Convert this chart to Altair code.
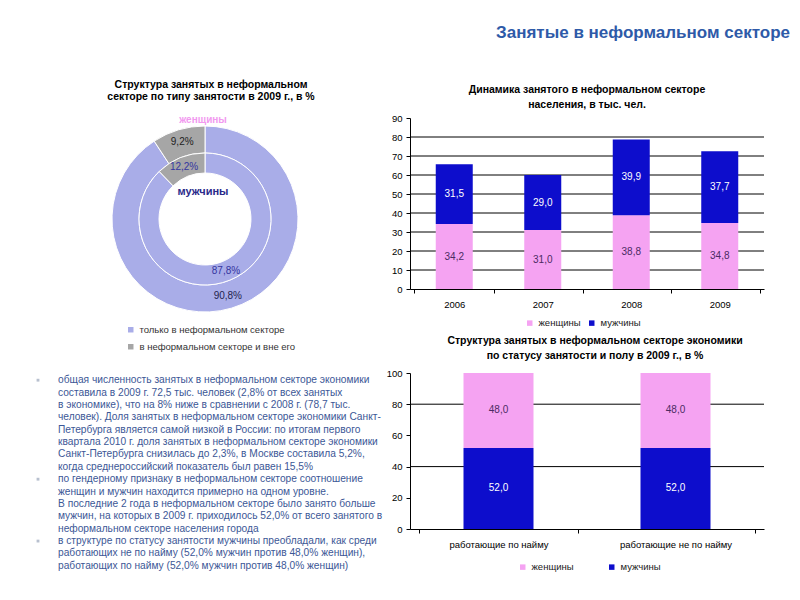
import altair as alt
import pandas as pd

FONT = "Liberation Sans"

# ---------------- data ----------------
main_title = "Занятые в неформальном секторе"

donut_title = ["Структура занятых в неформальном", "секторе по типу занятости в 2009 г., в %"]
donut_types = ["только в неформальном секторе", "в неформальном секторе и вне его"]
women_share = [90.8, 9.2]
men_share = [87.8, 12.2]
ring_women_label = "женщины"
ring_men_label = "мужчины"

genders = ["женщины", "мужчины"]

bar1_title = ["Динамика занятого в неформальном секторе", "населения, в тыс. чел."]
years = ["2006", "2007", "2008", "2009"]
women_k = [34.2, 31.0, 38.8, 34.8]
men_k = [31.5, 29.0, 39.9, 37.7]
bar1_ticks = [0, 10, 20, 30, 40, 50, 60, 70, 80, 90]
bar1_grid = [10, 20, 30, 40, 50, 60, 70, 80]

bar2_title = ["Структура занятых в неформальном секторе экономики",
              "по статусу занятости и полу в 2009 г., в %"]
statuses = ["работающие по найму", "работающие не по найму"]
women_pct = [48.0, 48.0]
men_pct = [52.0, 52.0]
bar2_ticks = [0, 20, 40, 60, 80, 100]
bar2_grid = [40, 80]

text_lines = [
    "общая численность занятых в неформальном секторе экономики",
    "составила в 2009 г. 72,5 тыс. человек (2,8% от всех занятых",
    "в экономике), что на 8% ниже  в сравнении с 2008 г. (78,7 тыс.",
    "человек). Доля занятых в неформальном секторе экономики Санкт-",
    "Петербурга является самой низкой в России: по итогам первого",
    "квартала 2010 г. доля занятых в неформальном секторе экономики",
    "Санкт-Петербурга снизилась до 2,3%, в Москве составила 5,2%,",
    "когда среднероссийский показатель был  равен 15,5%",
    "по гендерному признаку в неформальном секторе соотношение",
    "женщин и мужчин находится примерно на одном уровне.",
    "В последние 2 года в неформальном секторе было занято больше",
    "мужчин, на которых в 2009 г. приходилось 52,0% от всего занятого в",
    "неформальном секторе населения города",
    "в структуре по статусу занятости мужчины преобладали, как среди",
    "работающих не по найму (52,0% мужчин против 48,0% женщин),",
    "работающих по найму (52,0% мужчин против 48,0% женщин)",
]
bullet_lines = [0, 8, 13]

# ---------------- styles ----------------
LAV = "#A9ADE8"
GRAY = "#A6A6A6"
PINK = "#F5A3F2"
BLUE = "#0D0DCC"
TITLE_BLUE = "#2E5AA8"
BODY_TEXT = "#3C5796"


def fmt(v):
    return f"{v:.1f}".replace(".", ",")


# ---------------- header ----------------
header = alt.Chart(pd.DataFrame({"t": [main_title]})).mark_text(
    align="right", baseline="middle", font=FONT, fontSize=17, fontWeight="bold", color=TITLE_BLUE
).encode(text="t:N", x=alt.value(782), y=alt.value(25)).properties(width=782, height=67)

# ---------------- donut ----------------
CX, CY = 197, 101


def ring_df(values, colors):
    return pd.DataFrame({
        "type": donut_types,
        "value": values,
        "ord": [0, 1],
        "label": [fmt(v) + "%" for v in values],
        "lc": colors,
    })


outer_df = ring_df(women_share, ["#23234F", "#222222"])
inner_df = ring_df(men_share, ["#3535A0", "#3535A0"])

color_donut = alt.Color(
    "type:N",
    scale=alt.Scale(domain=donut_types, range=[LAV, GRAY]),
    legend=alt.Legend(
        orient="none", legendX=118, legendY=207, direction="vertical", title=None,
        symbolType="square", symbolSize=30, symbolStrokeWidth=0,
        labelFont=FONT, labelFontSize=9.5, labelColor="#333333", rowPadding=6,
    ),
)


def ring(df, r_out, r_in, label_r):
    base = alt.Chart(df).encode(
        theta=alt.Theta("value:Q", stack=True, scale=alt.Scale(domain=[0, 100])),
        order=alt.Order("ord:Q"),
    )
    arc = base.mark_arc(radius=r_out, radius2=r_in, stroke="white", strokeWidth=1).encode(
        color=color_donut, x=alt.value(CX), y=alt.value(CY)
    )
    txt = base.mark_text(radius=label_r, font=FONT, fontSize=10).encode(
        text="label:N", fill=alt.Fill("lc:N", scale=None), x=alt.value(CX), y=alt.value(CY)
    )
    return arc, txt


o_arc, o_txt = ring(outer_df, 93, 66, 80)
i_arc, i_txt = ring(inner_df, 66, 46, 56)

women_lbl = alt.Chart(pd.DataFrame({"t": [ring_women_label]})).mark_text(
    font=FONT, fontSize=10, fontWeight="bold", color="#F29AF0", baseline="middle"
).encode(text="t:N", x=alt.value(195), y=alt.value(2))
men_lbl = alt.Chart(pd.DataFrame({"t": [ring_men_label]})).mark_text(
    font=FONT, fontSize=11, fontWeight="bold", color="#2A2A8A", baseline="middle"
).encode(text="t:N", x=alt.value(195), y=alt.value(74))

donut = alt.layer(o_arc, i_arc, o_txt, i_txt, women_lbl, men_lbl).properties(
    width=370, height=256,
    title=alt.Title(donut_title, font=FONT, fontSize=10.5, fontWeight="bold", color="black",
                    anchor="middle", lineHeight=12, offset=13, dx=18),
)

# ---------------- text block ----------------
lines_df = pd.DataFrame({"i": list(range(len(text_lines))), "line": text_lines})
lines_df["bullet"] = lines_df["i"].isin(bullet_lines)

txt_chart = alt.Chart(lines_df).mark_text(
    align="left", baseline="middle", font=FONT, fontSize=10.2, color=BODY_TEXT
).encode(y=alt.Y("i:O", axis=None), x=alt.value(50), text="line:N")
bul_chart = alt.Chart(lines_df[lines_df["bullet"]]).mark_square(size=8, color="#9AA5BB").encode(
    y=alt.Y("i:O", axis=None), x=alt.value(30)
)
text_block = alt.layer(bul_chart, txt_chart).properties(width=370, height=198)

left = alt.vconcat(donut, text_block, spacing=0)


# ---------------- stacked bars ----------------
def stacked_df(cats, women, men, women_bottom):
    rows = []
    for c, w, m in zip(cats, women, men):
        order = [("женщины", w), ("мужчины", m)] if women_bottom else [("мужчины", m), ("женщины", w)]
        start = 0.0
        for k, (g, v) in enumerate(order):
            rows.append({"cat": c, "gender": g, "value": v, "ord": k,
                         "mid": start + v / 2, "label": fmt(v),
                         "lc": "#4B2B63" if g == "женщины" else "white"})
            start += v
    return pd.DataFrame(rows)


def bar_chart(df, cats, domain, ticks, grid, bar_size, title, title_dx, title_offset,
              legX, legY, colpad, w, h):
    yscale = alt.Scale(domain=domain, nice=False)
    xaxis = alt.Axis(
        title=None, labelAngle=0, labelFont=FONT, labelFontSize=9.5, labelColor="black",
        domainColor="black", tickColor="black", tickSize=4, tickBand="extent",
        labelPadding=6, grid=False)
    yaxis = alt.Axis(
        title=None, values=ticks, labelFont=FONT, labelFontSize=9.5, labelColor="black",
        domainColor="black", tickColor="black", tickSize=4, grid=False, labelPadding=4)
    gridl = alt.Chart(pd.DataFrame({"g": grid})).mark_rule(color="black", strokeWidth=1).encode(
        y=alt.Y("g:Q", scale=yscale, axis=yaxis))
    bars = alt.Chart(df).mark_bar(size=bar_size).encode(
        x=alt.X("cat:N", sort=cats, axis=xaxis),
        y=alt.Y("value:Q", stack="zero", scale=yscale, axis=yaxis),
        color=alt.Color("gender:N", scale=alt.Scale(domain=genders, range=[PINK, BLUE]),
                        legend=alt.Legend(orient="none", legendX=legX, legendY=legY,
                                          direction="horizontal", title=None, symbolType="square",
                                          symbolSize=30, symbolStrokeWidth=0, labelFont=FONT,
                                          labelFontSize=9.5, labelColor="#222222",
                                          columnPadding=colpad)),
        order=alt.Order("ord:Q"),
    )
    labels = alt.Chart(df).mark_text(font=FONT, fontSize=10, baseline="middle").encode(
        x=alt.X("cat:N", sort=cats, axis=xaxis),
        y=alt.Y("mid:Q", scale=yscale, axis=yaxis),
        text="label:N",
        fill=alt.Fill("lc:N", scale=None),
    )
    return alt.layer(gridl, bars, labels).properties(
        width=w, height=h,
        title=alt.Title(title, font=FONT, fontSize=10.5, fontWeight="bold", color="black",
                        anchor="middle", lineHeight=15, offset=title_offset, dx=title_dx),
    )


bar1_df = stacked_df(years, women_k, men_k, True)
bar2_df = stacked_df(statuses, women_pct, men_pct, False)

bar1 = bar_chart(bar1_df, years, [0, 90], bar1_ticks, bar1_grid, 37, bar1_title, 0, 3,
                 115, 200, 6, 354, 171)
bar2 = bar_chart(bar2_df, statuses, [0, 100], bar2_ticks, bar2_grid, 70, bar2_title, 8, 7,
                 108, 189, 33, 354, 156)

right = alt.vconcat(bar1, bar2, spacing=7).resolve_scale(color="independent")

body = alt.hconcat(left, right, spacing=3).resolve_scale(color="independent")

chart = alt.vconcat(header, body, spacing=4).resolve_scale(color="independent").properties(
    padding=0, background="white"
).configure_view(stroke=None)

chart.save("out.html", embed_options={"renderer": "svg", "actions": False})
